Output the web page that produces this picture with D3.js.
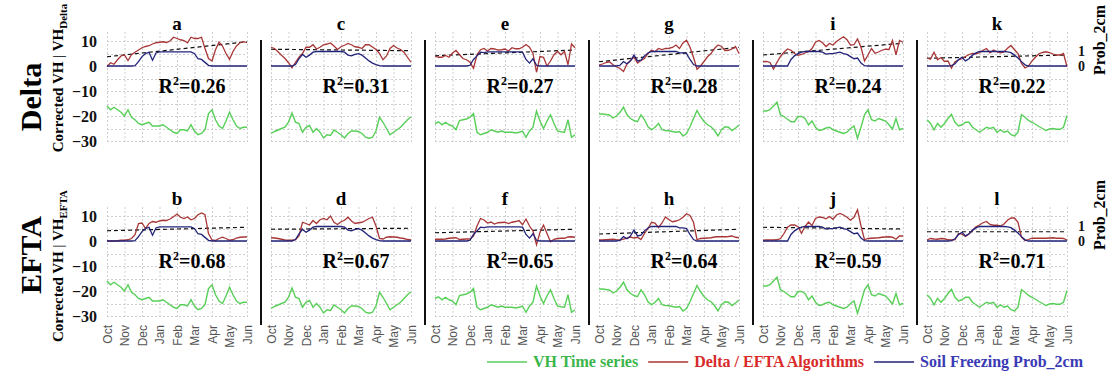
<!DOCTYPE html>
<html>
<head>
<meta charset="utf-8">
<script src="https://cdn.jsdelivr.net/npm/d3@7"></script>
<style>
  body { margin: 0; background: #fff; }
  svg { display: block; }
</style>
</head>
<body>
<svg id="chart" width="1110" height="373"></svg>
<script>
// ---- data -----------------------------------------------------------
const months = ["Oct", "Nov", "Dec", "Jan", "Feb", "Mar", "Apr", "May", "Jun"];
const yTicks = [10, 0, -10, -20, -30];
const probTicks = [0, 1];
const rowNames = ["Delta", "EFTA"];
const rowSubs = ["Delta", "EFTA"];
const panelLetters = [["a", "c", "e", "g", "i", "k"], ["b", "d", "f", "h", "j", "l"]];
const r2Delta = [0.26, 0.31, 0.27, 0.28, 0.24, 0.22];
const r2Efta = [0.68, 0.67, 0.65, 0.64, 0.59, 0.71];

// corrected VH backscatter (dB), one series per site, sampled every ~6 days Oct -> Jun
const vhSite1 = [-16,-17.5,-16.5,-17.5,-18.5,-20,-17.5,-20.5,-21.5,-23,-23.5,-23,-22.5,-24,-24,-24,-23.5,-24.5,-25.5,-26.5,-27,-25.5,-25.5,-26,-23.5,-26,-27.5,-27,-25.5,-19,-17.5,-21.5,-24,-25,-22,-18.5,-21.5,-24,-25,-24.5,-24.5];
const vhSite2 = [-27,-26.2,-25.6,-25,-24.5,-22.5,-18.8,-22.5,-23,-26.5,-24.5,-23.8,-26.5,-25,-26.5,-28.8,-27.5,-27.8,-25.6,-26.5,-27.5,-28.8,-27,-26,-26,-26.2,-27,-28.5,-28.9,-28.5,-26,-20.5,-22.5,-25,-27.5,-26.5,-25.5,-24.5,-23,-21.5,-20.3];
const vhSite3 = [-23,-22.3,-23.5,-22.5,-23.5,-24,-25.5,-21.8,-21.5,-21.2,-20.5,-19,-26.5,-27.5,-27,-26.5,-25.5,-26,-26.5,-26,-26.5,-26.5,-26.5,-26.8,-26.5,-26,-28.5,-26,-24.5,-18,-22,-25,-22,-19.5,-23,-26,-26.3,-26.5,-21.5,-28.5,-27.5];
const vhSite4 = [-19.2,-19.2,-19.4,-19.6,-20.8,-20,-18.5,-16.5,-19.5,-21,-21.8,-22.3,-19.5,-21.5,-24.3,-25.5,-24.5,-23,-25.5,-25.8,-25.9,-26.2,-26.5,-26.2,-28,-27,-24.3,-21,-17.8,-20.2,-22.2,-23.5,-24.3,-25.8,-28,-25.5,-24.3,-24.5,-25.8,-24.8,-23.6];
const vhSite5 = [-18,-18,-17.5,-16,-14.5,-19.6,-20.2,-21.3,-22.3,-22.3,-20.2,-20.2,-21,-23.5,-22,-24.5,-25.8,-25.5,-24.8,-24.5,-25.5,-26,-26.5,-27,-26.5,-25,-24,-28.9,-24.5,-19.5,-17.5,-21.5,-22,-21,-21.5,-22,-23.5,-25.2,-21,-25.5,-25];
const vhSite6 = [-21.5,-23,-25.5,-23,-24.5,-23,-21,-19.3,-22.5,-24,-23.5,-22.5,-22.5,-24.5,-25.5,-26.5,-25.5,-24.5,-25,-24.5,-26.5,-25.5,-26.5,-26,-27.5,-28,-26.5,-19.5,-20.5,-21.8,-22.5,-23.3,-24.2,-25,-25.8,-25.2,-25,-25.3,-25.3,-24.5,-19.8];

// soil freezing probability at 2 cm (0..1)
const probSite1 = [0,0,0,0,0,0,0,0,0.02,0.3,0.65,0.85,0.95,0.4,0.9,0.97,0.97,0.97,0.97,0.97,0.97,0.97,0.97,0.97,0.97,0.85,0.5,0.45,0.25,0.05,0,0,0,0,0,0,0,0,0,0,0];
const probSite2 = [0,0,0,0,0,0,0,0.1,0.5,0.8,0.6,0.75,0.95,1,1,1,1,1,1,1,1,0.95,0.75,0.7,0.8,0.85,0.75,0.55,0.35,0.2,0.1,0.03,0,0,0,0,0,0,0,0,0];
const probSite3 = [0,0,0,0,0,0,0,0,0,0,0.05,0.45,0.7,0.95,0.92,0.98,0.98,0.98,0.98,0.98,0.98,0.98,0.98,0.98,0.98,0.95,0.45,0.2,0.5,0.05,0,0,0,0,0,0,0,0,0,0,0];
const probSite4 = [0,0,0,0,0,0,0.05,0.3,0.15,0.35,0.75,0.35,0.4,0.7,0.9,1,1,1,1,1,1,1,1,0.9,0.9,0.85,0.45,0.1,0,0,0,0,0,0,0,0,0,0,0,0,0];
const probSite5 = [0,0,0,0,0,0,0,0,0.45,0.7,0.85,0.95,1,1,1,1,1,0.95,0.82,0.85,0.85,0.9,0.95,0.85,0.8,0.65,0.5,0.55,0.2,0.02,0,0,0,0,0,0,0,0,0,0,0];
const probSite6 = [0,0,0,0,0,0,0,0.03,0.15,0.45,0.6,0.35,0.5,0.75,0.9,1,1,1,1,1,1,1,1,0.97,0.92,0.75,0.55,0.3,0.08,0,0,0,0,0,0,0,0,0,0,0,0];

// Delta algorithm output (VH_Delta)
const deltaSite1 = [-0.3,1.3,0.7,2.5,4,4.4,2.2,4.5,5.5,6.4,7.3,7.8,8.1,8.8,9.3,9.5,9.7,9.4,10,11.5,11,10.5,10.2,9.3,11.5,11,11,11.5,7,3,2,6.5,9.5,8,5,2.7,5.8,8,9.3,9.7,9.3];
const deltaSite2 = [7.5,7,5.7,4.3,3,1.3,-0.7,1.5,3.5,5,7.5,7.5,8.5,6.8,7.5,8.5,8.8,9.2,8,6.6,7.7,8.3,9,8.5,7.7,7.5,7,8.5,8.5,7.6,6.6,5,2.5,4,7,8.2,7.2,6.6,5.5,3.5,1.5];
const deltaSite3 = [4,3.5,3.5,4.2,3.5,5.2,6.2,4.5,3,2.5,1.5,-0.9,4.5,6.5,7,6,7,6.8,6.4,6.5,6.8,6,7.3,6.9,6.9,7.5,8.6,7.5,5,-2.5,3.8,3.5,0,2,4.5,5.8,4.5,5.8,0.5,8.8,7.3];
const deltaSite4 = [0.4,0.8,1.4,1.7,0.5,-0.3,-1,-2.2,0.8,2.2,3.6,1.2,2.2,3,5,6.3,5.7,7,6.6,7,7.1,7.4,8.4,7,9.2,10.3,7.5,3.5,-1.3,0,1.8,3.7,5,7,8.4,7.8,6.2,6.3,6.8,7.8,5];
const deltaSite5 = [1.7,1.8,1.4,-1.2,1.5,3.8,5.5,6.8,6.3,5,4.3,4.6,5.2,5.7,7,9.5,10.2,9.3,7.8,9,8.4,9.8,10.8,11.7,10.5,8.4,8.5,10.8,7.5,2,4.4,7,5.1,5.6,6.3,6.7,6.6,10.2,4.5,10.2,9.5];
const deltaSite6 = [3.2,2.7,5.5,2.5,3.4,1.8,2,-0.8,1.7,2.4,2.9,3.8,4.6,5,4.9,5.3,6.3,7,5.3,6.4,5.7,5.3,5.6,7.1,8.2,6.5,5,1,-0.8,0,2,3.5,4.9,5.4,5.7,5.4,4.8,4.4,4.4,5,-0.3];

// EFTA algorithm output (VH_EFTA)
const eftaSite1 = [0,0,0,0.1,0.3,0.3,0.5,1,2.5,7,7.2,5,7,7.8,7.5,8,8.3,8.2,8.8,9.7,10.8,9.5,9,9.6,8.5,9,10.5,11.2,10.5,3,0.4,0.2,1,1.5,1,0.3,0.5,1.2,1.5,1.6,1.6];
const eftaSite2 = [1.3,1.2,1,0.7,0.4,0.3,0.3,0.5,2,7.5,7,6.4,8.2,7,8.5,9,8.5,10,7.5,6.6,7.7,8.3,9.5,8,7,7.3,7.5,8.2,9,9.5,6,1,0.8,1.5,1.7,1.6,1.5,1.2,1,0.6,0.4];
const eftaSite3 = [0.7,0.7,0.7,0.8,1.1,1.2,1.3,0.6,0.7,0.8,0.8,2,6,9,8.4,7.2,7.6,6.8,7.3,7.4,7.5,7,7.5,7.8,8.2,6.5,8.8,6,4,-1.5,3.5,6.4,3,-0.3,0.7,1,1.1,1.1,1.6,1.7,1.5];
const eftaSite4 = [0.4,0.4,0.5,0.6,0.7,0.5,0.4,0.8,1.2,1.6,1.2,1.5,0.6,3,5,7.5,7.2,5.3,7.2,9.6,8.5,7.7,8,8.5,9.5,10.9,10.2,7.5,0.5,1,1.1,1.2,1.3,1.6,1.7,1.7,1.7,1.8,2,1.5,1.3];
const eftaSite5 = [0.3,0.4,0.4,0.4,0.5,1,3,5.5,6.4,6.4,5.7,3.1,5.8,7.6,6.2,9,9.6,9.4,8.9,9.8,8.7,10.4,11,10.4,9.5,8.3,9.5,12.5,6,0.5,1,1.1,1.2,1.3,1.5,1.6,1.7,1.5,0.7,2,2];
const eftaSite6 = [0.4,1,0.8,0.7,1,0.9,0.5,0.4,0.5,3,2.8,1.8,2.8,4.2,5.7,6.4,7.3,7.8,6.6,6.3,6.3,6,6.8,8.3,9.2,9.2,7.5,1.5,0.2,0.6,1.1,1.1,1.1,1.1,1.1,1.2,1.3,1.1,1.1,1,0.4];

// linear trend of each algorithm series: [value at Oct, value at Jun]
const deltaTrend = [[3.7, 9.7], [6.7, 6.1], [4.1, 6.4], [1.7, 7.5], [4.4, 9.1], [3.1, 4.4]];
const eftaTrend = [[4.1, 5.5], [4.7, 5.1], [3.3, 4.7], [2.8, 4.7], [5.5, 4.8], [3.7, 3.7]];

const legendLabels = ["VH Time series", "Delta / EFTA Algorithms", "Soil Freezing Prob_2cm"];

// ---- layout ---------------------------------------------------------
const vhSeries = [vhSite1, vhSite2, vhSite3, vhSite4, vhSite5, vhSite6];
const probSeries = [probSite1, probSite2, probSite3, probSite4, probSite5, probSite6];
const algSeries = [
  [deltaSite1, deltaSite2, deltaSite3, deltaSite4, deltaSite5, deltaSite6],
  [eftaSite1, eftaSite2, eftaSite3, eftaSite4, eftaSite5, eftaSite6]
];
const trends = [deltaTrend, eftaTrend];
const r2 = [r2Delta, r2Efta];

const firstX = 107, colStep = 164, plotW = 140, rowStep = 175;
const serif = "'Liberation Serif','Times New Roman',serif";
const sans = "'Liberation Sans',Arial,sans-serif";
const col = { vh: "#58cf58", alg: "#a83636", prob: "#22237a" };
const legendText = ["#3bb54a", "#d92a2a", "#3a3ab4"];

const svg = d3.select("#chart");

const x = d3.scaleLinear().domain([0, months.length - 1]).range([0, plotW]);
const y = d3.scaleLinear().domain([-30.8, 13.6]).range([143, 32]);
// probability shares the zero line; full probability sits a little above 5 units
const yProb = d3.scaleLinear().domain([0, 1]).range([y(0), y(5.8)]);

const monthAt = n => i => i * (months.length - 1) / (n - 1);

for (let r = 0; r < 2; r++) {
  for (let c = 0; c < 6; c++) {
    const g = svg.append("g")
      .attr("transform", `translate(${firstX + c * colStep},${r * rowStep})`);

    // dotted grid
    const grid = g.append("g").attr("stroke", "#cfcfcf").attr("stroke-width", 1)
      .attr("stroke-dasharray", "2,2");
    grid.selectAll("line.v").data(d3.range(months.length)).join("line")
      .attr("class", "v")
      .attr("x1", d => x(d) + 0.5).attr("x2", d => x(d) + 0.5)
      .attr("y1", y(13.6)).attr("y2", y(-30.8));
    grid.selectAll("line.h").data(d3.range(-30, 11, 5)).join("line")
      .attr("class", "h")
      .attr("x1", 0).attr("x2", plotW)
      .attr("y1", d => Math.round(y(d)) + 0.5).attr("y2", d => Math.round(y(d)) + 0.5);

    const vh = vhSeries[c], alg = algSeries[r][c], prob = probSeries[c];

    const lineV = d3.line().x((d, i) => x(monthAt(vh.length)(i))).y(d => y(d));
    const lineP = d3.line().x((d, i) => x(monthAt(prob.length)(i))).y(d => yProb(d));

    g.append("path").datum(vh).attr("d", lineV)
      .attr("fill", "none").attr("stroke", col.vh).attr("stroke-width", 1.4);

    // trend line of the algorithm output
    const tr = trends[r][c];
    g.append("line")
      .attr("x1", x(0)).attr("x2", x(months.length - 1))
      .attr("y1", y(tr[0])).attr("y2", y(tr[1]))
      .attr("stroke", "#111").attr("stroke-width", 1.2).attr("stroke-dasharray", "4,3");

    g.append("path").datum(alg).attr("d", lineV)
      .attr("fill", "none").attr("stroke", col.alg).attr("stroke-width", 1.3);
    g.append("path").datum(prob).attr("d", lineP)
      .attr("fill", "none").attr("stroke", col.prob).attr("stroke-width", 1.3);

    // panel letter
    g.append("text")
      .attr("x", x(4)).attr("y", 30)
      .attr("text-anchor", "middle")
      .attr("font-family", serif).attr("font-weight", "bold").attr("font-size", 19)
      .text(panelLetters[r][c]);

    // R squared
    const rt = g.append("text")
      .attr("x", x(4) + 15).attr("y", y(-10.8))
      .attr("text-anchor", "middle")
      .attr("font-family", serif).attr("font-weight", "bold").attr("font-size", 20);
    rt.append("tspan").text("R");
    rt.append("tspan").attr("font-size", 12).attr("dy", -8).text("2");
    rt.append("tspan").attr("dy", 8).text("=" + r2[r][c].toFixed(2));

    // left value axis on the first column
    if (c === 0) {
      const ax = g.append("g").attr("transform", "translate(-7,0)")
        .call(d3.axisLeft(y).tickValues(yTicks).tickSize(0).tickFormat(d3.format("d")));
      ax.select(".domain").remove();
      ax.selectAll("text").attr("font-family", serif).attr("font-weight", "bold")
        .attr("font-size", 16).attr("fill", "#111");
    }

    // right probability axis on the last column
    if (c === 5) {
      const ax = g.append("g").attr("transform", `translate(${plotW + 8},0)`)
        .call(d3.axisRight(yProb).tickValues(probTicks).tickSize(0).tickFormat(d3.format("d")));
      ax.select(".domain").remove();
      ax.selectAll("text").attr("font-family", serif).attr("font-weight", "bold")
        .attr("font-size", 14).attr("fill", "#111");
    }

    // month labels under the lower row
    if (r === 1) {
      const ax = g.append("g").attr("transform", `translate(0,${y(-30.8) + 4})`)
        .call(d3.axisBottom(x).tickValues(d3.range(months.length)).tickSize(0)
          .tickFormat(i => months[i]));
      ax.select(".domain").remove();
      ax.selectAll("text")
        .attr("transform", "rotate(-90)")
        .attr("text-anchor", "end")
        .attr("x", -3).attr("y", 0).attr("dy", "0.35em")
        .attr("font-family", sans).attr("font-size", 12).attr("fill", "#555");
    }
  }
}

// vertical separators between sites
svg.append("g").selectAll("line").data(d3.range(1, 6)).join("line")
  .attr("x1", d => firstX + d * colStep - 10).attr("x2", d => firstX + d * colStep - 10)
  .attr("y1", 40).attr("y2", 325)
  .attr("stroke", "#111").attr("stroke-width", 2);

// row titles and axis titles
rowNames.forEach((name, r) => {
  const cy = [97, 255][r];
  svg.append("text")
    .attr("transform", `translate(41,${cy}) rotate(-90)`)
    .attr("text-anchor", "middle")
    .attr("font-family", serif).attr("font-weight", "bold").attr("font-size", 30)
    .text(name);

  const t = svg.append("text")
    .attr("transform", `translate(63,${[78, 266][r]}) rotate(-90)`)
    .attr("text-anchor", "middle")
    .attr("font-family", serif).attr("font-weight", "bold").attr("font-size", 15);
  t.append("tspan").text("Corrected VH ");
  t.append("tspan").attr("font-weight", "normal").text("|");
  t.append("tspan").text(" VH");
  t.append("tspan").attr("font-size", 11).attr("dy", 4).text(rowSubs[r]);

  svg.append("text")
    .attr("transform", `translate(1105,${[40, 215][r]}) rotate(-90)`)
    .attr("text-anchor", "middle")
    .attr("font-family", serif).attr("font-weight", "bold").attr("font-size", 16)
    .text("Prob_2cm");
});

// legend: coloured dash followed by its label, laid out left to right
const legendColors = [col.vh, col.alg, col.prob];
const lg = svg.append("g").attr("transform", "translate(0,362)");
let lx = 487;
legendLabels.forEach((lab, i) => {
  lg.append("line").attr("x1", lx).attr("x2", lx + 40)
    .attr("y1", 0).attr("y2", 0)
    .attr("stroke", legendColors[i]).attr("stroke-width", 1.5);
  const t = lg.append("text").attr("x", lx + 46).attr("y", 5)
    .attr("font-family", serif).attr("font-weight", "bold").attr("font-size", 16)
    .attr("fill", legendText[i]).text(lab);
  lx += 46 + t.node().getComputedTextLength() + 10;
});
</script>
</body>
</html>
